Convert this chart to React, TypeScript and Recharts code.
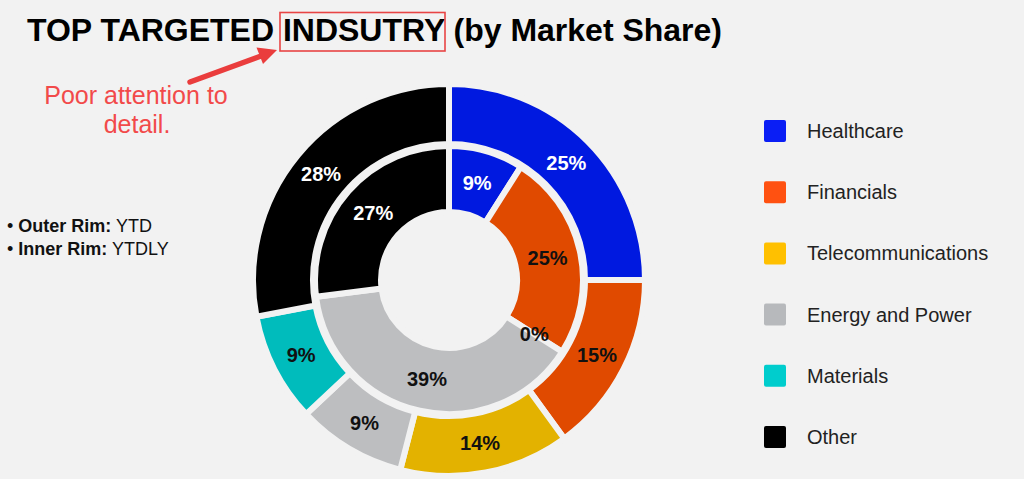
import React from 'react';
import { PieChart, Pie, Cell, Legend } from 'recharts';

// Industries, outer rim = YTD, inner rim = YTDLY
const categories = ['Healthcare', 'Financials', 'Telecommunications', 'Energy and Power', 'Materials', 'Other'];
const ytdValues = [25, 15, 14, 9, 9, 28];
const ytdlyValues: (number | null)[] = [9, 25, 0, 39, null, 27];

const sliceColors = ['#0019e0', '#e04a00', '#e3b200', '#bdbec0', '#00bcbc', '#000000'];
const legendColors = ['#0a1ef5', '#ff5111', '#ffc000', '#b7b9bc', '#00cdcd', '#000000'];
const labelColors = ['#ffffff', '#111111', '#111111', '#111111', '#111111', '#ffffff'];

const BG = '#f2f2f2';
const FONT = '"Liberation Sans", Arial, sans-serif';
const RADIAN = Math.PI / 180;

const outerData = categories.map((name, i) => ({ name, value: ytdValues[i] }));
const innerData = categories.map((name, i) => ({ name, value: ytdlyValues[i] ?? 0 }));

const makeLabel = (values: (number | null)[]) => (props: any) => {
  const { cx, cy, midAngle, innerRadius, outerRadius, index } = props;
  const v = values[index];
  if (v == null) return null;
  const r = (innerRadius + outerRadius) / 2;
  const x = cx + r * Math.cos(-midAngle * RADIAN);
  const y = cy + r * Math.sin(-midAngle * RADIAN);
  return (
    <text
      x={x}
      y={y}
      textAnchor="middle"
      dominantBaseline="central"
      fill={labelColors[index]}
      fontFamily={FONT}
      fontWeight="bold"
      fontSize={20}
    >
      {`${v}%`}
    </text>
  );
};

const LegendContent = () => (
  <svg width={260} height={360}>
    {categories.map((name, i) => (
      <g key={name}>
        <rect x={0} y={i * 61.2} width={22} height={22} rx={2} fill={legendColors[i]} />
        <text x={43} y={i * 61.2 + 11} dominantBaseline="central" fontFamily={FONT} fontSize={20} fill="#222">
          {name}
        </text>
      </g>
    ))}
  </svg>
);

export default function App() {
  return (
    <div style={{ position: 'fixed', left: 0, top: 0, width: 1024, height: 479, background: BG, overflow: 'hidden' }}>
      <PieChart width={1024} height={479} margin={{ top: 0, right: 0, bottom: 0, left: 0 }}>
        <Pie
          data={outerData}
          dataKey="value"
          cx={449}
          cy={280}
          innerRadius={136}
          outerRadius={196}
          startAngle={90}
          endAngle={-270}
          stroke={BG}
          strokeWidth={6}
          label={makeLabel(ytdValues)}
          labelLine={false}
          isAnimationActive={false}
        >
          {outerData.map((d, i) => (
            <Cell key={d.name} fill={sliceColors[i]} />
          ))}
        </Pie>
        <Pie
          data={innerData}
          dataKey="value"
          cx={449}
          cy={280}
          innerRadius={68}
          outerRadius={134}
          startAngle={90}
          endAngle={-270}
          stroke={BG}
          strokeWidth={6}
          label={makeLabel(ytdlyValues)}
          labelLine={false}
          isAnimationActive={false}
        >
          {innerData.map((d, i) => (
            <Cell key={d.name} fill={sliceColors[i]} />
          ))}
        </Pie>
        <Legend
          layout="vertical"
          align="right"
          verticalAlign="top"
          content={<LegendContent />}
          wrapperStyle={{ position: 'absolute', left: 764, top: 120, width: 260 }}
        />
      </PieChart>

      <svg width={1024} height={479} style={{ position: 'absolute', left: 0, top: 0, pointerEvents: 'none' }}>
        <text x={27} y={41} fontFamily={FONT} fontWeight="bold" fontSize={32} fill="#000" textLength={695} lengthAdjust="spacingAndGlyphs">
          TOP TARGETED INDSUTRY (by Market Share)
        </text>
        <rect x={280} y={12.5} width={165} height={38.5} fill="none" stroke="#e84444" strokeWidth={1.6} />
        {/* arrow */}
        <line x1={190} y1={82} x2={261} y2={56} stroke="#ea3d3d" strokeWidth={5.5} strokeLinecap="round" />
        <polygon points="277,50 263,64 256.5,47.5" fill="#ea3d3d" />
        <text x={136} y={104} textAnchor="middle" fontFamily={FONT} fontSize={25} fill="#f24a4a">
          Poor attention to
        </text>
        <text x={137} y={133} textAnchor="middle" fontFamily={FONT} fontSize={25} fill="#f24a4a">
          detail.
        </text>
        <text x={7} y={232} fontFamily={FONT} fontSize={18} fill="#111">
          • <tspan fontWeight="bold">Outer Rim:</tspan> YTD
        </text>
        <text x={7} y={255} fontFamily={FONT} fontSize={18} fill="#111">
          • <tspan fontWeight="bold">Inner Rim:</tspan> YTDLY
        </text>
      </svg>
    </div>
  );
}
